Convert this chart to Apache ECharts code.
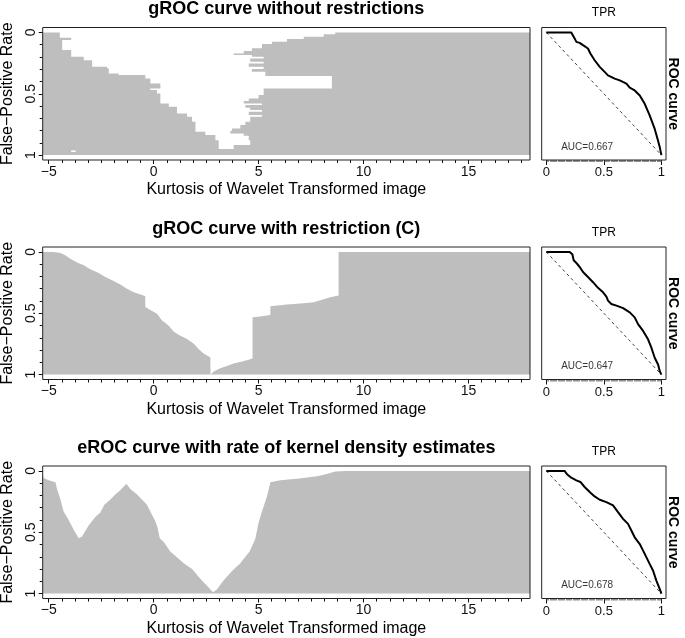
<!DOCTYPE html>
<html><head><meta charset="utf-8">
<script src="https://cdn.jsdelivr.net/npm/echarts@6/dist/echarts.min.js"></script>
<style>html,body{margin:0;padding:0;background:#fff}#c{width:685px;height:638px}</style>
</head><body><div id="c"></div>
<script>
// ---------- data ----------
const X_MIN = -5.2861, X_MAX = 17.9274;
const xTicks = [-5, 0, 5, 10, 15];
const fprTicks = [0, 0.5, 1];
const tprTicks = [0, 0.5, 1];
const xMinorStep = 0.625, fprMinorStep = 0.1, tprMinorStep = 0.01;
const titles = ['gROC curve without restrictions', 'gROC curve with restriction (C)', 'eROC curve with rate of kernel density estimates'];
const xName = 'Kurtosis of Wavelet Transformed image';
const yName = 'False\u2212Positive Rate';
const aucValues = [0.667, 0.647, 0.678];

// Row 1: gROC without restrictions (horizontal bands: left and right gray edges per FPR step)
const g1LeftFpr = [0, 0.043, 0.0625, 0.144, 0.198, 0.226, 0.28, 0.293, 0.334, 0.348, 0.375, 0.416, 0.457, 0.47, 0.497, 0.579, 0.606, 0.66, 0.688, 0.728, 0.81, 0.837, 0.878, 0.951];
const g1LeftCut = [-4.47, -3.93, -4.36, -3.93, -3.33, -2.93, -2.22, -2.14, -1.67, -0.40, -0.16, 0.32, -0.16, 0.16, 0.32, 0.72, 1.11, 1.59, 1.83, 1.99, 2.46, 2.94, 3.10, 17.9274];
const g1RightFpr = [0, 0.016, 0.035, 0.054, 0.076, 0.095, 0.13, 0.152, 0.171, 0.185, 0.198, 0.212, 0.239, 0.253, 0.28, 0.299, 0.32, 0.356, 0.457, 0.51, 0.538, 0.56, 0.579, 0.592, 0.614, 0.633, 0.647, 0.674, 0.688, 0.728, 0.755, 0.783, 0.804, 0.823, 0.842, 0.878, 0.918, 0.951];
const g1RightCut = [8.65, 8.1, 7.15, 6.35, 5.64, 5.16, 4.68, 4.29, 3.81, 4.68, 5.24, 4.60, 5.24, 4.53, 5.24, 4.68, 5.32, 8.49, 5.24, 5.0, 4.53, 4.29, 5.16, 4.37, 4.6, 5.16, 4.53, 5.16, 4.60, 4.37, 4.13, 3.73, 3.65, 4.29, 4.53, 4.60, 3.81, 3.81];
const g1HoleX0 = [-3.93], g1HoleX1 = [-3.72], g1HoleF0 = [0.962], g1HoleF1 = [0.975];

// Row 2: gROC with restriction (C) – upper edge of gray as function of x
const g2X = [-5.2861, -4.76, -4.44, -4.21, -3.97, -3.65, -3.33, -3.02, -2.62, -2.30, -1.98, -1.59, -1.27, -0.95, -0.63, -0.40, -0.40, -0.16, 0.16, 0.40, 0.71, 0.95, 1.27, 1.59, 1.90, 2.14, 2.38, 2.70, 2.71, 2.86, 3.17, 3.49, 3.81, 4.21, 4.52, 4.71, 4.71, 5.08, 5.56, 5.56, 6.35, 7.14, 7.62, 8.02, 8.41, 8.81, 8.81, 17.9274];
const g2Fpr = [0, 0, 0.008, 0.027, 0.055, 0.087, 0.109, 0.142, 0.172, 0.205, 0.232, 0.265, 0.30, 0.328, 0.347, 0.36, 0.45, 0.473, 0.505, 0.56, 0.60, 0.648, 0.683, 0.71, 0.746, 0.792, 0.828, 0.86, 1.0, 0.975, 0.948, 0.929, 0.91, 0.893, 0.88, 0.869, 0.533, 0.527, 0.514, 0.443, 0.429, 0.418, 0.41, 0.39, 0.369, 0.355, 0, 0];

// Row 3: eROC with kernel density estimates
const g3X = [-5.2861, -5.24, -5.0, -4.68, -4.6, -4.44, -4.29, -4.05, -3.81, -3.57, -3.41, -3.10, -2.78, -2.54, -2.35, -2.06, -1.83, -1.59, -1.30, -1.11, -0.79, -0.56, -0.32, -0.08, 0.08, 0.19, 0.29, 0.48, 0.79, 1.11, 1.43, 1.83, 2.06, 2.30, 2.54, 2.83, 3.02, 3.30, 3.57, 3.78, 4.13, 4.32, 4.57, 4.84, 5.0, 5.16, 5.40, 5.56, 6.03, 6.83, 7.78, 8.25, 8.65, 9.2, 17.9274];
const g3Fpr = [0.03, 0.057, 0.076, 0.093, 0.15, 0.234, 0.33, 0.40, 0.48, 0.548, 0.534, 0.444, 0.376, 0.338, 0.275, 0.234, 0.193, 0.158, 0.104, 0.147, 0.193, 0.234, 0.275, 0.357, 0.41, 0.466, 0.548, 0.58, 0.657, 0.703, 0.752, 0.80, 0.847, 0.894, 0.937, 0.99, 0.965, 0.90, 0.847, 0.807, 0.752, 0.71, 0.657, 0.556, 0.42, 0.33, 0.207, 0.093, 0.076, 0.063, 0.044, 0.025, 0.005, 0, 0];

// ROC curves (x = TPR, y = FPR)
const roc1Tpr = [0, 0.217, 0.232, 0.246, 0.261, 0.29, 0.319, 0.362, 0.383, 0.42, 0.464, 0.507, 0.536, 0.594, 0.638, 0.696, 0.725, 0.768, 0.812, 0.855, 0.899, 0.942, 0.971, 0.986, 1];
const roc1Fpr = [0, 0, 0.008, 0.049, 0.077, 0.085, 0.104, 0.131, 0.172, 0.227, 0.281, 0.322, 0.35, 0.377, 0.391, 0.418, 0.451, 0.473, 0.514, 0.582, 0.678, 0.787, 0.883, 0.937, 1];
const roc2Tpr = [0, 0.203, 0.226, 0.238, 0.261, 0.29, 0.319, 0.362, 0.406, 0.449, 0.493, 0.522, 0.536, 0.565, 0.609, 0.667, 0.725, 0.768, 0.797, 0.841, 0.884, 0.913, 0.942, 0.971, 0.986, 1];
const roc2Fpr = [0, 0, 0.019, 0.068, 0.090, 0.123, 0.164, 0.205, 0.247, 0.293, 0.329, 0.364, 0.397, 0.425, 0.438, 0.458, 0.493, 0.534, 0.589, 0.644, 0.712, 0.781, 0.863, 0.918, 0.973, 1];
const roc3Tpr = [0, 0.159, 0.180, 0.217, 0.261, 0.296, 0.333, 0.377, 0.42, 0.464, 0.522, 0.58, 0.623, 0.667, 0.71, 0.739, 0.768, 0.812, 0.841, 0.870, 0.899, 0.928, 0.957, 0.986, 1];
const roc3Fpr = [0, 0, 0.027, 0.055, 0.077, 0.090, 0.131, 0.172, 0.208, 0.235, 0.254, 0.281, 0.336, 0.391, 0.432, 0.486, 0.541, 0.596, 0.650, 0.705, 0.760, 0.814, 0.896, 0.964, 1];
const aucPos = [0.355, 0.935];

// ---------- layout / build ----------
const FONT = '"Liberation Sans", Arial, Helvetica, sans-serif';
const GRAY = '#bebebe', INK = '#111';
const TOPS = [27.5, 247, 466], H = 132.5;
const LX = 42.7, LW = 487.3, RX = 541.7, RW = 124.3;

function stepsBetween(lo, hi, step) {
  const out = [];
  const n = Math.round((hi - lo) / step);
  for (let k = 0; k <= n; k++) out.push(+(lo + k * step).toFixed(4));
  return out;
}
const xMinor = stepsBetween(-5, 17.5, xMinorStep);
const fprMinor = stepsBetween(0, 1, fprMinorStep);
const tprMinor = stepsBetween(0, 1, tprMinorStep);

function stepPolygon(fpr, cut, edgeX) {
  const pts = [[edgeX, fpr[0]]];
  for (let i = 0; i < fpr.length; i++) {
    const f1 = i + 1 < fpr.length ? fpr[i + 1] : 1;
    pts.push([cut[i], fpr[i]], [cut[i], f1]);
  }
  pts.push([edgeX, 1]);
  return pts;
}
function areaPolygon(xs, ys) {
  const pts = [[xs[0], 1]];
  for (let i = 0; i < xs.length; i++) pts.push([xs[i], ys[i]]);
  pts.push([xs[xs.length - 1], 1]);
  return pts;
}
const regionShapes = [
  { polys: [stepPolygon(g1LeftFpr, g1LeftCut, X_MIN), stepPolygon(g1RightFpr, g1RightCut, X_MAX)],
    holes: g1HoleX0.map((x0, i) => [[x0, g1HoleF0[i]], [g1HoleX1[i], g1HoleF0[i]], [g1HoleX1[i], g1HoleF1[i]], [x0, g1HoleF1[i]]]) },
  { polys: [areaPolygon(g2X, g2Fpr)], holes: [] },
  { polys: [areaPolygon(g3X, g3Fpr)], holes: [] }
];
const rocs = [[roc1Tpr, roc1Fpr], [roc2Tpr, roc2Fpr], [roc3Tpr, roc3Fpr]];

const grids = [], xAxes = [], yAxes = [], series = [], graphics = [];
const tickLine = { color: INK, width: 1 };
function txt(x, y, text, size, bold, rot) {
  return { type: 'text', x: x, y: y, rotation: rot || 0, silent: true, z: 100,
    style: { text: text, font: (bold ? 'bold ' : '') + size + 'px ' + FONT, fill: '#000',
      align: 'center', verticalAlign: 'middle', textAlign: 'center', textVerticalAlign: 'middle' } };
}
function baseAxis(gridIndex, position, min, max, extra) {
  return Object.assign({ gridIndex: gridIndex, position: position, offset: 0, type: 'value', min: min, max: max,
    axisLine: { show: false, onZero: false }, splitLine: { show: false },
    minorTick: { show: false }, axisLabel: { show: false }, axisTick: { show: false } }, extra);
}

for (let r = 0; r < 3; r++) {
  const top = TOPS[r];
  grids.push({ left: LX, top: top, width: LW, height: H, show: true, borderColor: '#222', borderWidth: 1, backgroundColor: 'transparent', z: 10 });
  grids.push({ left: RX, top: top, width: RW, height: H, show: true, borderColor: '#222', borderWidth: 1, backgroundColor: 'transparent', z: 10 });
  const gi = 2 * r, ri = 2 * r + 1;
  const xL = 4 * r, xR = 4 * r + 2;
  const yL = 3 * r, yR = 3 * r + 2;

  // left panel x axes
  xAxes.push(baseAxis(gi, 'bottom', X_MIN, X_MAX, {
    axisTick: { show: true, length: 4, customValues: xTicks, lineStyle: tickLine },
    axisLabel: { show: true, customValues: xTicks, margin: 5, fontSize: 14, color: INK, fontFamily: FONT,
      formatter: v => String(v).replace('-', '\u2212') } }));
  xAxes.push(baseAxis(gi, 'bottom', X_MIN, X_MAX, {
    axisTick: { show: true, length: 3, customValues: xMinor, lineStyle: tickLine } }));
  // ROC x axes
  xAxes.push(baseAxis(ri, 'bottom', -0.04, 1.04, {
    axisTick: { show: true, length: 5, customValues: tprTicks, lineStyle: tickLine },
    axisLabel: { show: true, customValues: tprTicks, margin: 6, fontSize: 13, color: INK, fontFamily: FONT } }));
  xAxes.push(baseAxis(ri, 'bottom', -0.04, 1.04, {
    axisTick: { show: true, length: 2, customValues: tprMinor, lineStyle: { color: '#444', width: 0.6 } } }));
  // left y axes
  yAxes.push(baseAxis(gi, 'left', -0.04, 1.04, { inverse: true,
    axisTick: { show: true, length: 4, customValues: fprTicks, lineStyle: tickLine },
    axisLabel: { show: true, customValues: fprTicks, rotate: 90, margin: 5, fontSize: 14, color: INK, fontFamily: FONT } }));
  yAxes.push(baseAxis(gi, 'left', -0.04, 1.04, { inverse: true,
    axisTick: { show: true, length: 3, customValues: fprMinor, lineStyle: tickLine } }));
  // ROC y axis
  yAxes.push(baseAxis(ri, 'left', -0.04, 1.04, { inverse: true }));

  const shape = regionShapes[r];
  series.push({ type: 'custom', xAxisIndex: xL, yAxisIndex: yL, silent: true, z: 2,
    data: [[X_MIN, 0]],
    renderItem: function (params, api) {
      const children = [];
      shape.polys.forEach(p => children.push({ type: 'polygon', shape: { points: p.map(q => api.coord(q)) }, style: { fill: GRAY } }));
      shape.holes.forEach(p => children.push({ type: 'polygon', shape: { points: p.map(q => api.coord(q)) }, style: { fill: '#fff' } }));
      return { type: 'group', children: children };
    } });
  series.push({ type: 'line', xAxisIndex: xR, yAxisIndex: yR, silent: true, symbol: 'none',
    data: [[0, 0], [1, 1]], lineStyle: { type: [3, 3], width: 1, color: '#444' } });
  series.push({ type: 'line', xAxisIndex: xR, yAxisIndex: yR, silent: true, symbol: 'none',
    data: rocs[r][0].map((t, i) => [t, rocs[r][1][i]]), lineStyle: { width: 2, color: '#000' } });
  series.push({ type: 'scatter', xAxisIndex: xR, yAxisIndex: yR, silent: true, symbolSize: 1,
    data: [aucPos], itemStyle: { color: 'rgba(0,0,0,0)' },
    label: { show: true, position: 'inside', formatter: 'AUC=' + aucValues[r].toFixed(3), fontSize: 10, color: '#000', fontFamily: FONT } });

  graphics.push(txt(LX + LW / 2, top - 18, titles[r], 18, true));
  graphics.push(txt(RX + RW / 2, top - 14.5, 'TPR', 12, false));
  graphics.push(txt(672.5, top + H / 2, 'ROC curve', 14, true, -Math.PI / 2));
  graphics.push(txt(7.5, top + H / 2, yName, 16, false, Math.PI / 2));
  graphics.push(txt(LX + LW / 2, top + H + 30, xName, 16, false));
}

const chart = echarts.init(document.getElementById('c'), null, { renderer: 'canvas' });
chart.setOption({
  animation: false,
  backgroundColor: '#fff',
  textStyle: { fontFamily: FONT },
  grid: grids, xAxis: xAxes, yAxis: yAxes, series: series, graphic: graphics
});
</script></body></html>
